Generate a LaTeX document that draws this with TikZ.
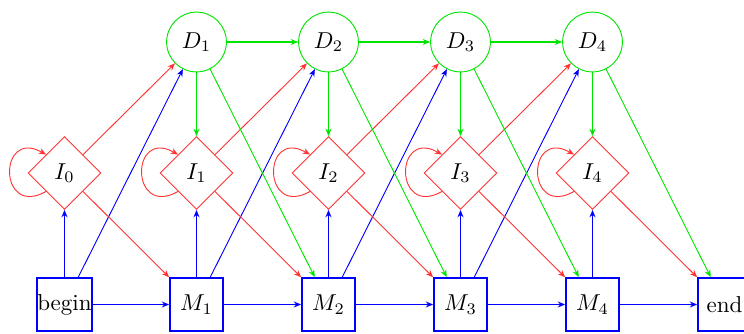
\documentclass[tikz,border=0pt]{standalone}
\usetikzlibrary{shapes.geometric,arrows.meta}
\begin{document}
\begin{tikzpicture}[x=0.4348pt,y=0.4348pt,
  arr/.style={-{Stealth[length=3.2pt,width=2.6pt]}},
  mbox/.style={draw=blue,thick,rectangle,minimum size=23pt,inner sep=0pt},
  dcirc/.style={draw=green!90!black,circle,minimum size=26pt,inner sep=0pt},
  idiam/.style={draw=red!80,diamond,minimum size=31.7pt,inner sep=0pt},
  mm/.style={arr,blue,thick},
  md/.style={arr,blue},
  ii/.style={arr,red!80},
  dd/.style={arr,green!90!black,thick},
  dm/.style={arr,green!90!black}]
\useasboundingbox (0,0) rectangle (744,333);
% match states
\node[mbox] (M0) at (64.5,28.5) {begin};
\node[mbox] (M1) at (196.5,28.5) {$M_1$};
\node[mbox] (M2) at (328.5,28.5) {$M_2$};
\node[mbox] (M3) at (460.5,28.5) {$M_3$};
\node[mbox] (M4) at (592.5,28.5) {$M_4$};
\node[mbox] (M5) at (724.5,28.5) {end};
% insert states
\node[idiam] (I0) at (64.5,160) {$I_0$};
\node[idiam] (I1) at (196.5,160) {$I_1$};
\node[idiam] (I2) at (328.5,160) {$I_2$};
\node[idiam] (I3) at (460.5,160) {$I_3$};
\node[idiam] (I4) at (592.5,160) {$I_4$};
% delete states
\node[dcirc] (D1) at (196.5,291) {$D_1$};
\node[dcirc] (D2) at (328.5,291) {$D_2$};
\node[dcirc] (D3) at (460.5,291) {$D_3$};
\node[dcirc] (D4) at (592.5,291) {$D_4$};
% match transitions
\foreach \a/\b in {M0/M1,M1/M2,M2/M3,M3/M4,M4/M5} \draw[mm] (\a) -- (\b);
\foreach \a/\b in {M0/I0,M1/I1,M2/I2,M3/I3,M4/I4} \draw[mm] (\a) -- (\b);
\foreach \a/\b in {M0/D1,M1/D2,M2/D3,M3/D4} \draw[md] (\a) -- (\b);
% insert transitions
\foreach \a/\b in {I0/D1,I1/D2,I2/D3,I3/D4} \draw[ii] (\a) -- (\b);
\foreach \a/\b in {I0/M1,I1/M2,I2/M3,I3/M4,I4/M5} \draw[ii] (\a) -- (\b);
\foreach \a in {I0,I1,I2,I3,I4} \draw[ii] (\a.225) .. controls +(-48,-27) and +(-48,27) .. (\a.135);
% delete transitions
\foreach \a/\b in {D1/D2,D2/D3,D3/D4} \draw[dd] (\a) -- (\b);
\foreach \a/\b in {D1/I1,D2/I2,D3/I3,D4/I4} \draw[dd] (\a) -- (\b);
\foreach \a/\b in {D1/M2,D2/M3,D3/M4,D4/M5} \draw[dm] (\a) -- (\b);
\end{tikzpicture}
\end{document}
